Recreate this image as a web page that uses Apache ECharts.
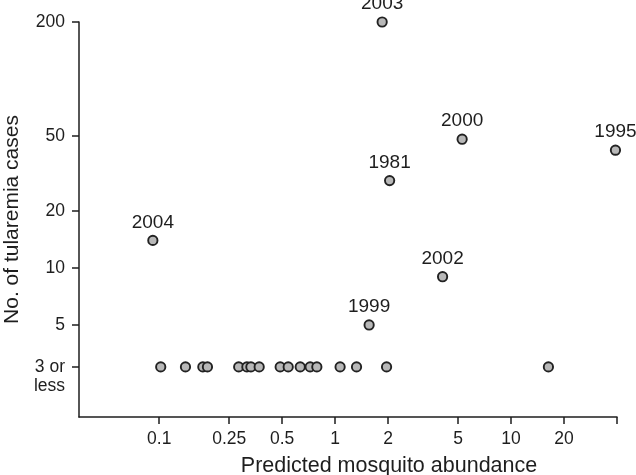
<!DOCTYPE html>
<html lang="en">
<head>
  <meta charset="UTF-8">
  <script src="https://cdn.jsdelivr.net/npm/echarts@6.0.0/dist/echarts.min.js"></script>
  <style>
    html, body { margin: 0; padding: 0; background: #fff; }
  </style>
</head>
<body>
<div id="main" style="width:636px;height:475px;"></div>

<script>
  // labelled years
  var yearNames = ['2003', '2000', '1995', '1981', '2004', '2002', '1999'];
  var yearX = [1.85, 5.27, 39.2, 2.04, 0.092, 4.08, 1.56];
  var yearY = [200, 48, 42, 29, 14, 9, 5];

  // years with 3 or less cases
  var lowX = [0.102, 0.141, 0.177, 0.188, 0.283, 0.315, 0.332, 0.370, 0.487,
              0.541, 0.633, 0.721, 0.787, 1.067, 1.323, 1.96, 16.3];
  var lowY = 3;

  var xTicks = [0.1, 0.25, 0.5, 1, 2, 5, 10, 20];
  var yTicks = [3, 5, 10, 20, 50, 200];

  var font = "'Liberation Sans', Arial, Helvetica, sans-serif";
  var ink = '#1e1e1e';

  var labelledData = [];
  for (var i = 0; i < yearNames.length; i++) {
    labelledData.push({name: yearNames[i], value: [yearX[i], yearY[i]]});
  }
  var lowData = [];
  for (var j = 0; j < lowX.length; j++) {
    lowData.push([lowX[j], lowY]);
  }

  var dot = {color: '#b8b8b8', borderColor: '#222', borderWidth: 1.9, opacity: 1};

  var chart = echarts.init(document.querySelector('#main'));

  chart.setOption({
    animation: false,
    textStyle: {fontFamily: font, color: ink},
    grid: {left: 79, right: 19, top: 22, bottom: 58, containLabel: false, outerBoundsMode: 'none'},
    xAxis: {
      type: 'log',
      min: 0.035,
      max: 40,
      name: 'Predicted mosquito abundance',
      nameLocation: 'middle',
      nameGap: 38,
      nameTextStyle: {fontSize: 21.5, color: ink, fontFamily: font, padding: [0, 0, 0, 82]},
      axisLine: {lineStyle: {color: ink, width: 1.5}},
      axisTick: {length: 7, lineStyle: {color: ink, width: 1.5}, customValues: xTicks.concat([40])},
      axisLabel: {
        customValues: xTicks,
        fontSize: 17.5, color: ink, fontFamily: font, margin: 13,
        formatter: function (v) { return String(+(+v).toPrecision(3)); }
      },
      splitLine: {show: false},
      minorTick: {show: false}
    },
    yAxis: {
      type: 'log',
      min: 1.63,
      max: 200,
      name: 'No. of tularemia cases',
      nameLocation: 'middle',
      nameGap: 48,
      nameTextStyle: {fontSize: 21, color: ink, fontFamily: font},
      axisLine: {lineStyle: {color: ink, width: 1.5}},
      axisTick: {length: 7, lineStyle: {color: ink, width: 1.5}, customValues: yTicks},
      axisLabel: {
        customValues: yTicks,
        fontSize: 17.5, color: ink, fontFamily: font, margin: 14, lineHeight: 19,
        formatter: function (v) {
          var n = +(+v).toPrecision(3);
          if (n === 3) return '\n3 or\nless';
          return String(n);
        }
      },
      splitLine: {show: false},
      minorTick: {show: false}
    },
    series: [{
      type: 'scatter',
      data: labelledData,
      symbol: 'circle',
      symbolSize: 9.3,
      clip: false,
      itemStyle: dot,
      label: {
        show: true,
        position: 'top',
        distance: 3,
        formatter: '{b}',
        fontSize: 19,
        color: ink,
        fontFamily: font
      }
    }, {
      type: 'scatter',
      data: lowData,
      symbol: 'circle',
      symbolSize: 9.3,
      clip: false,
      itemStyle: dot
    }]
  });
</script>
</body>
</html>
